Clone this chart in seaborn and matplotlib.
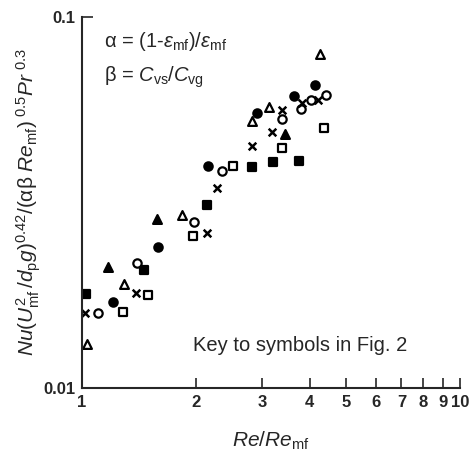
import numpy as np
import pandas as pd
import matplotlib
matplotlib.use('Agg')
import matplotlib.pyplot as plt
import seaborn as sns
from matplotlib.ticker import FixedLocator, NullLocator, FixedFormatter

# Data (Re/Re_mf, correlated Nu group)
fsq_x = [1.025, 1.459, 2.141, 2.817, 3.201, 3.751]
fsq_y = [0.0179, 0.0208, 0.0311, 0.0394, 0.0407, 0.0409]

fci_x = [1.208, 1.589, 2.154, 2.904, 3.638, 4.134]
fci_y = [0.0170, 0.0240, 0.0397, 0.0551, 0.0613, 0.0656]

ftr_x = [1.172, 1.579, 3.444]
ftr_y = [0.0212, 0.0285, 0.0484]

otr_x = [1.031, 1.291, 1.839, 2.817, 3.124, 4.262]
otr_y = [0.0131, 0.0191, 0.0293, 0.0524, 0.0572, 0.0795]

oci_x = [1.102, 1.398, 1.978, 2.346, 3.382, 3.796, 4.035, 4.421]
oci_y = [0.0159, 0.0217, 0.0280, 0.0385, 0.0531, 0.0565, 0.0597, 0.0616]

osq_x = [1.284, 1.495, 1.966, 2.508, 3.382, 4.367]
osq_y = [0.0160, 0.0178, 0.0257, 0.0397, 0.0444, 0.0502]

crs_x = [1.018, 1.389, 2.141, 2.276, 2.817, 3.182, 3.382, 3.819, 4.210]
crs_y = [0.0159, 0.0180, 0.0262, 0.0346, 0.0449, 0.0490, 0.0561, 0.0586, 0.0597]

x_ticks = [1, 2, 3, 4, 5, 6, 7, 8, 9, 10]
x_ticklabels = ['1', '2', '3', '4', '5', '6', '7', '8', '9', '10']
y_ticks = [0.01, 0.1]
y_ticklabels = ['0.01', '0.1']

groups = [
    ('filled square', fsq_x, fsq_y, 's', True),
    ('filled circle', fci_x, fci_y, 'o', True),
    ('filled triangle', ftr_x, ftr_y, '^', True),
    ('open triangle', otr_x, otr_y, '^', False),
    ('open circle', oci_x, oci_y, 'o', False),
    ('open square', osq_x, osq_y, 's', False),
    ('cross', crs_x, crs_y, 'x', True),
]

sns.set_style('ticks')
plt.rcParams['font.family'] = ['Liberation Sans', 'DejaVu Sans']
plt.rcParams['mathtext.fontset'] = 'custom'
plt.rcParams['mathtext.rm'] = 'Liberation Sans'
plt.rcParams['mathtext.it'] = 'Liberation Sans:italic'
plt.rcParams['mathtext.bf'] = 'Liberation Sans:bold'

fig = plt.figure(figsize=(4.7, 4.61), dpi=100)
ax = fig.add_axes([0.1745, 0.1584, 0.8042, 0.8047])

for name, xs, ys, mk, filled in groups:
    df = pd.DataFrame({'x': xs, 'y': ys})
    if mk == 'x':
        sns.scatterplot(data=df, x='x', y='y', marker='x', color='black',
                        s=30, linewidth=1.8, ax=ax)
    else:
        sns.scatterplot(data=df, x='x', y='y', marker=mk,
                        facecolor='black' if filled else 'white',
                        edgecolor='black', s=36 if mk != '^' else 40,
                        linewidth=1.6, ax=ax)

ax.set_xscale('log')
ax.set_yscale('log')
ax.set_xlim(1, 10)
ax.set_ylim(0.01, 0.1)

ax.xaxis.set_major_locator(FixedLocator(x_ticks))
ax.xaxis.set_major_formatter(FixedFormatter(x_ticklabels))
ax.xaxis.set_minor_locator(NullLocator())
ax.yaxis.set_major_locator(FixedLocator(y_ticks))
ax.yaxis.set_major_formatter(FixedFormatter(y_ticklabels))
ax.yaxis.set_minor_locator(NullLocator())

ax.tick_params(axis='x', direction='in', length=7, width=1.2, pad=5,
               labelsize=12)
ax.tick_params(axis='y', direction='in', length=8, width=1.2, pad=5,
               labelsize=12)
for lab in ax.get_xticklabels() + ax.get_yticklabels():
    lab.set_fontweight('bold')

sns.despine(ax=ax)
for sp in ['left', 'bottom']:
    ax.spines[sp].set_linewidth(1.5)

ax.set_xlabel(r'$Re/Re_{\rm mf}$', fontsize=15, labelpad=14)
ax.set_ylabel(r'$Nu(U^{2}_{\rm mf}\,/d_{\rm p}g)^{\rm 0.42}/(\rm\alpha\beta\ \it Re_{\rm mf})^{\rm\ 0.5}\it Pr^{\rm\ 0.3}$',
              fontsize=15, labelpad=0)

ax.text(0.058, 0.965, r'$\rm\alpha$ = (1-$\epsilon_{\rm mf}$)/$\epsilon_{\rm mf}$',
        transform=ax.transAxes, fontsize=14.5, va='top', ha='left')
ax.text(0.058, 0.872, r'$\rm\beta$ = $C_{\rm vs}/C_{\rm vg}$',
        transform=ax.transAxes, fontsize=14.5, va='top', ha='left')
ax.text(0.293, 0.115, 'Key to symbols in Fig. 2', transform=ax.transAxes,
        fontsize=14.5, va='center', ha='left')

fig.savefig('out.png', dpi=100)
